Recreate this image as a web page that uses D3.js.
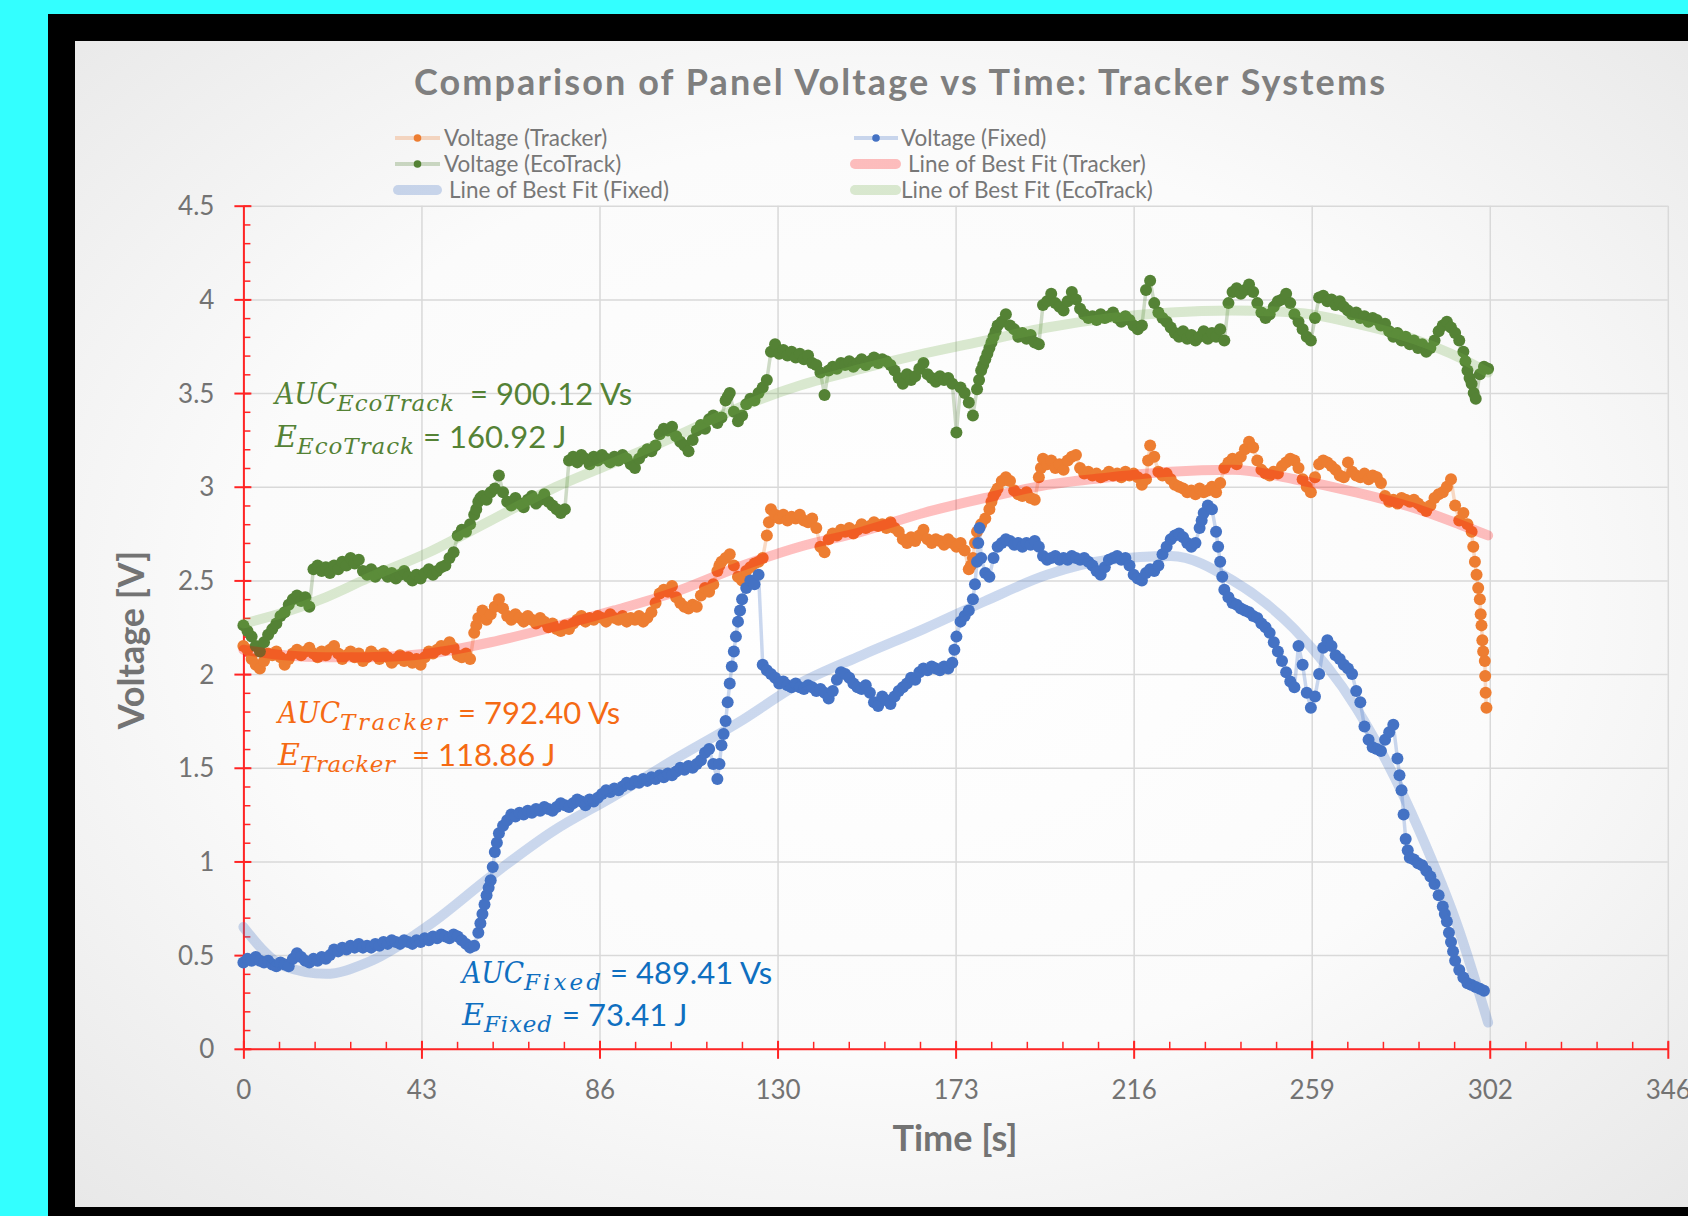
<!DOCTYPE html>
<html>
<head>
<meta charset="utf-8">
<script src="https://cdn.jsdelivr.net/npm/d3@7"></script>
<style>
  html, body { margin: 0; padding: 0; background: #33ffff; overflow: hidden; }
  svg { display: block; }
</style>
</head>
<body>
<div id="chart"></div>
<script>
// ---- data ----
// one sample per second, starting at t = 0
var seconds = d3.range(0, 303);

var trackerVolt = [
  2.15, 2.13, 2.08, 2.05, 2.03, 2.07, 2.11, 2.10, 2.12, 2.09,
  2.05, 2.08, 2.11, 2.13, 2.10, 2.12, 2.14, 2.11, 2.09, 2.12,
  2.10, 2.13, 2.15, 2.11, 2.08, 2.10, 2.12, 2.09, 2.11, 2.07,
  2.09, 2.12, 2.10, 2.08, 2.11, 2.09, 2.06, 2.08, 2.10, 2.07,
  2.09, 2.06, 2.08, 2.05, 2.09, 2.12, 2.11, 2.13, 2.15, 2.13,
  2.17, 2.14, 2.10, 2.09, 2.11, 2.08, 2.22, 2.30, 2.34, 2.29,
  2.32, 2.36, 2.40, 2.35, 2.31, 2.29, 2.32, 2.30, 2.28, 2.31,
  2.29, 2.27, 2.30, 2.28, 2.25, 2.27, 2.24, 2.23, 2.26, 2.24,
  2.27, 2.29, 2.31, 2.28, 2.30, 2.29, 2.31, 2.30, 2.28, 2.32,
  2.30, 2.29, 2.31, 2.28, 2.30, 2.29, 2.31, 2.28, 2.30, 2.33,
  2.38, 2.43, 2.45, 2.44, 2.47, 2.41, 2.38, 2.36, 2.35, 2.37,
  2.36, 2.42, 2.46, 2.44, 2.48, 2.55, 2.60, 2.62, 2.64, 2.58,
  2.52, 2.50, 2.55, 2.57, 2.59, 2.60, 2.62, 2.74, 2.88, 2.85,
  2.83, 2.85, 2.82, 2.84, 2.83, 2.85, 2.82, 2.81, 2.83, 2.78,
  2.68, 2.65, 2.72, 2.75, 2.74, 2.77, 2.76, 2.78, 2.75, 2.77,
  2.80, 2.78, 2.79, 2.81, 2.79, 2.80, 2.78, 2.81, 2.78, 2.76,
  2.72, 2.70, 2.73, 2.71, 2.74, 2.77, 2.72, 2.70, 2.72, 2.71,
  2.69, 2.72, 2.70, 2.68, 2.70, 2.66, 2.56, 2.62, 2.76, 2.80,
  2.83, 2.88, 2.95, 2.99, 3.03, 3.05, 3.03, 2.98, 2.96, 2.95,
  2.97, 2.94, 2.93, 3.05, 3.15, 3.12, 3.14, 3.10, 3.12, 3.09,
  3.14, 3.16, 3.17, 3.10, 3.07, 3.08, 3.06, 3.07, 3.05, 3.06,
  3.08, 3.06, 3.07, 3.05, 3.08, 3.06, 3.07, 3.05, 3.01, 3.04,
  3.22, 3.16, 3.08, 3.06, 3.07, 3.04, 3.01, 3.00, 2.99, 2.97,
  2.98, 2.96, 2.99, 2.97, 2.98, 3.00, 2.97, 3.02, 3.10, 3.13,
  3.15, 3.12, 3.16, 3.20, 3.24, 3.21, 3.14, 3.09, 3.07, 3.06,
  3.08, 3.07, 3.11, 3.13, 3.15, 3.14, 3.10, 3.04, 3.00, 2.97,
  3.05, 3.12, 3.14, 3.13, 3.11, 3.09, 3.06, 3.05, 3.13, 3.08,
  3.06, 3.05, 3.07, 3.04, 3.06, 3.05, 3.02, 2.95, 2.92, 2.93,
  2.91, 2.94, 2.93, 2.92, 2.93, 2.91, 2.89, 2.87, 2.90, 2.94,
  2.96, 2.97, 3.00, 3.04, 2.90, 2.82, 2.86, 2.80, 2.76
];
// extra samples where the voltage moves fast (and the final drop)
var trackerExtraTime = [56.5, 115.5, 127.5, 176.5, 177.5, 181.5, 182.5, 193.5, 219.5,
  298.4, 298.8, 299.2, 299.6, 300.0, 300.2, 300.4, 300.6, 300.8, 301.2, 301.3, 301.4, 301.6];
var trackerExtraVolt = [2.26, 2.58, 2.81, 2.58, 2.70, 2.92, 2.97, 3.10, 3.14,
  2.68, 2.60, 2.53, 2.46, 2.40, 2.32, 2.26, 2.18, 2.12, 2.07, 1.99, 1.90, 1.82];

var fixedVolt = [
  0.46, 0.48, 0.47, 0.49, 0.47, 0.46, 0.47, 0.45, 0.44, 0.46,
  0.45, 0.44, 0.48, 0.51, 0.49, 0.47, 0.46, 0.48, 0.47, 0.49,
  0.48, 0.50, 0.53, 0.52, 0.54, 0.53, 0.55, 0.54, 0.56, 0.54,
  0.55, 0.54, 0.56, 0.55, 0.57, 0.56, 0.58, 0.57, 0.56, 0.58,
  0.57, 0.56, 0.58, 0.57, 0.59, 0.58, 0.60, 0.59, 0.61, 0.60,
  0.59, 0.61, 0.60, 0.58, 0.56, 0.54, 0.55, 0.62, 0.72, 0.82,
  0.90, 1.05, 1.15, 1.19, 1.22, 1.25, 1.24, 1.26, 1.25, 1.27,
  1.26, 1.28, 1.27, 1.29, 1.28, 1.27, 1.29, 1.31, 1.30, 1.29,
  1.31, 1.33, 1.32, 1.30, 1.33, 1.32, 1.34, 1.36, 1.38, 1.37,
  1.39, 1.38, 1.40, 1.42, 1.41, 1.43, 1.42, 1.44, 1.43, 1.45,
  1.44, 1.46, 1.45, 1.47, 1.46, 1.48, 1.50, 1.49, 1.51, 1.50,
  1.52, 1.54, 1.58, 1.60, 1.52, 1.44, 1.62, 1.75, 1.95, 2.12,
  2.28, 2.40, 2.46, 2.50, 2.48, 2.53, 2.05, 2.02, 2.00, 1.98,
  1.95, 1.96, 1.94, 1.93, 1.95, 1.93, 1.92, 1.94, 1.93, 1.91,
  1.92, 1.90, 1.87, 1.91, 1.97, 2.01, 2.00, 1.98, 1.95, 1.93,
  1.92, 1.94, 1.90, 1.85, 1.83, 1.88, 1.86, 1.84, 1.88, 1.91,
  1.93, 1.95, 1.98, 1.97, 2.01, 2.03, 2.02, 2.04, 2.03, 2.02,
  2.04, 2.03, 2.06, 2.20, 2.28, 2.31, 2.34, 2.40, 2.60, 2.62,
  2.54, 2.52, 2.62, 2.68, 2.70, 2.72, 2.71, 2.69, 2.70, 2.68,
  2.70, 2.69, 2.71, 2.68, 2.63, 2.61, 2.62, 2.63, 2.61, 2.62,
  2.61, 2.63, 2.62, 2.61, 2.62, 2.60, 2.58, 2.55, 2.53, 2.57,
  2.61, 2.62, 2.63, 2.61, 2.62, 2.58, 2.53, 2.51, 2.50, 2.54,
  2.56, 2.55, 2.58, 2.64, 2.68, 2.72, 2.74, 2.75, 2.73, 2.70,
  2.68, 2.70, 2.78, 2.86, 2.90, 2.88, 2.76, 2.60, 2.45, 2.41,
  2.38, 2.37, 2.35, 2.34, 2.33, 2.31, 2.30, 2.27, 2.25, 2.22,
  2.17, 2.12, 2.07, 2.01, 1.96, 1.93, 2.15, 2.05, 1.90, 1.82,
  1.88, 2.00, 2.14, 2.18, 2.15, 2.10, 2.08, 2.05, 2.03, 2.00,
  1.91, 1.85, 1.72, 1.65, 1.61, 1.60, 1.59, 1.65, 1.69, 1.73,
  1.55, 1.38, 1.12, 1.02, 1.01, 0.99, 0.98, 0.95, 0.92, 0.88,
  0.82, 0.76, 0.68, 0.57, 0.47, 0.42, 0.38, 0.35, 0.34, 0.33,
  0.32, 0.31
];
var fixedExtraTime = [57.5, 58.5, 59.5, 60.5, 61.5, 115.5, 116.5, 117.5, 118.5, 119.5, 120.5,
  172.5, 177.5, 178.3, 178.6, 232.5, 236.5, 237.5, 280.5, 281.5, 282.5, 291.5, 292.5, 293.5];
var fixedExtraVolt = [0.67, 0.77, 0.86, 0.97, 1.10, 1.52, 1.68, 1.85, 2.04, 2.20, 2.34,
  2.13, 2.48, 2.70, 2.78, 2.82, 2.68, 2.52, 1.46, 1.25, 1.06, 0.72, 0.62, 0.52];

var ecoVolt = [
  2.26, 2.23, 2.20, 2.15, 2.12, 2.17, 2.21, 2.24, 2.27, 2.31,
  2.33, 2.37, 2.40, 2.42, 2.39, 2.41, 2.36, 2.56, 2.58, 2.55,
  2.57, 2.54, 2.58, 2.56, 2.60, 2.58, 2.62, 2.59, 2.61, 2.55,
  2.53, 2.56, 2.52, 2.54, 2.55, 2.52, 2.54, 2.51, 2.53, 2.55,
  2.52, 2.50, 2.53, 2.51, 2.54, 2.56, 2.53, 2.55, 2.57, 2.58,
  2.62, 2.65, 2.74, 2.77, 2.76, 2.80, 2.85, 2.92, 2.95, 2.93,
  2.97, 2.99, 3.06, 2.97, 2.92, 2.90, 2.94, 2.91, 2.89, 2.93,
  2.95, 2.91, 2.93, 2.96, 2.92, 2.90, 2.88, 2.86, 2.88, 3.14,
  3.16, 3.13, 3.17, 3.15, 3.12, 3.16, 3.14, 3.17, 3.15, 3.13,
  3.16, 3.14, 3.17, 3.15, 3.12, 3.10, 3.15, 3.18, 3.20, 3.19,
  3.22, 3.28, 3.31, 3.30, 3.32, 3.27, 3.24, 3.22, 3.19, 3.25,
  3.30, 3.33, 3.31, 3.36, 3.38, 3.34, 3.37, 3.46, 3.50, 3.40,
  3.35, 3.38, 3.44, 3.47, 3.46, 3.50, 3.53, 3.57, 3.72, 3.76,
  3.71, 3.73, 3.70, 3.72, 3.69, 3.71, 3.68, 3.70, 3.66, 3.65,
  3.61, 3.49, 3.62, 3.64, 3.63, 3.66, 3.65, 3.67, 3.64, 3.66,
  3.68, 3.65, 3.67, 3.69, 3.66, 3.68, 3.67, 3.65, 3.62, 3.58,
  3.55, 3.60, 3.57, 3.59, 3.63, 3.66, 3.60, 3.58, 3.56, 3.59,
  3.57, 3.58, 3.55, 3.29, 3.53, 3.50, 3.45, 3.38, 3.52, 3.62,
  3.68, 3.74, 3.80, 3.86, 3.88, 3.92, 3.86, 3.84, 3.80, 3.82,
  3.79, 3.81, 3.77, 3.76, 3.97, 3.99, 4.03, 3.98, 3.96, 3.94,
  3.99, 4.04, 4.00, 3.95, 3.92, 3.90, 3.91, 3.89, 3.92, 3.90,
  3.91, 3.93, 3.90, 3.88, 3.91, 3.89, 3.86, 3.84, 3.86, 4.05,
  4.10, 3.98, 3.93, 3.90, 3.88, 3.85, 3.82, 3.80, 3.83, 3.79,
  3.81, 3.78, 3.80, 3.83, 3.79, 3.82, 3.80, 3.84, 3.78, 3.98,
  4.04, 4.06, 4.03, 4.05, 4.08, 4.04, 3.98, 3.93, 3.90, 3.92,
  3.96, 3.99, 4.00, 4.03, 3.98, 3.92, 3.88, 3.84, 3.80, 3.78,
  3.90, 4.01, 4.02, 3.99, 4.00, 3.97, 3.99, 3.96, 3.94, 3.92,
  3.93, 3.90, 3.91, 3.88, 3.90, 3.89, 3.86, 3.87, 3.83, 3.80,
  3.82, 3.78, 3.80, 3.76, 3.78, 3.74, 3.76, 3.72, 3.74, 3.78,
  3.83, 3.86, 3.88, 3.85, 3.82, 3.78, 3.72, 3.62, 3.55, 3.47,
  3.60, 3.64, 3.63
];
var ecoExtraTime = [56.5, 57.5, 117.5, 178.5, 179.5, 180.5, 181.5, 182.5, 296.5, 297.5, 298.5];
var ecoExtraVolt = [2.88, 2.94, 3.48, 3.57, 3.65, 3.71, 3.77, 3.83, 3.67, 3.58, 3.50];

// lines of best fit, read at these times
var fitTime = [0, 10, 20, 30, 45, 60, 75, 90, 105, 120, 135, 150, 165, 180, 195, 210, 225, 240, 255, 270, 285, 295, 302];
var fitTracker = [2.13, 2.10, 2.09, 2.09, 2.11, 2.17, 2.25, 2.34, 2.44, 2.57, 2.68, 2.76, 2.86, 2.94, 3.01, 3.05, 3.08, 3.09, 3.04, 2.97, 2.88, 2.80, 2.74];
var fitFixed   = [0.65, 0.44, 0.40, 0.46, 0.66, 0.92, 1.16, 1.35, 1.55, 1.74, 1.95, 2.10, 2.24, 2.39, 2.53, 2.61, 2.63, 2.50, 2.24, 1.82, 1.18, 0.63, 0.14];
var fitEco     = [2.27, 2.33, 2.41, 2.51, 2.65, 2.82, 2.99, 3.13, 3.27, 3.42, 3.54, 3.63, 3.71, 3.78, 3.85, 3.90, 3.93, 3.94, 3.93, 3.87, 3.78, 3.69, 3.61];

// axes
var timeTicks = [0, 43.2, 86.4, 129.6, 172.8, 216, 259.2, 302.4, 345.6];
var timeTickLabels = ["0", "43", "86", "130", "173", "216", "259", "302", "346"];
var voltTicks = [0, 0.5, 1, 1.5, 2, 2.5, 3, 3.5, 4, 4.5];
var voltTickLabels = ["0", "0.5", "1", "1.5", "2", "2.5", "3", "3.5", "4", "4.5"];

// ---- drawing ----
var width = 1688, height = 1216;
var sans = "Lato, 'Open Sans', sans-serif";
var serif = "'DejaVu Serif', 'Liberation Serif', serif";

var svg = d3.select("#chart").append("svg")
  .attr("width", width)
  .attr("height", height);

var defs = svg.append("defs");
var grad = defs.append("radialGradient").attr("id", "bg")
  .attr("cx", "50%").attr("cy", "48%").attr("r", "72%");
grad.append("stop").attr("offset", "0%").attr("stop-color", "#ffffff");
grad.append("stop").attr("offset", "55%").attr("stop-color", "#fbfbfb");
grad.append("stop").attr("offset", "100%").attr("stop-color", "#e8e8e8");

// page + black frame + chart area
svg.append("rect").attr("width", width).attr("height", height).attr("fill", "#33ffff");
svg.append("rect").attr("x", 48).attr("y", 14).attr("width", width - 48).attr("height", height - 14).attr("fill", "#000");
svg.append("rect").attr("x", 75).attr("y", 41).attr("width", width - 75).attr("height", 1207 - 41).attr("fill", "url(#bg)");

var x = d3.scaleLinear().domain([0, 345.6]).range([243.4, 1667.8]);
var y = d3.scaleLinear().domain([0, 4.5]).range([1048.8, 205.7]);

var plotW = x(345.6) - x(0);
var plotH = y(0) - y(4.5);

// gridlines
svg.append("g")
  .attr("transform", "translate(0," + y(0) + ")")
  .call(d3.axisBottom(x).tickValues(timeTicks).tickSize(-plotH).tickFormat(""))
  .call(function(g) { g.select(".domain").remove(); })
  .selectAll("line").attr("stroke", "#d9d9d9").attr("stroke-width", 1.5);
svg.append("g")
  .attr("transform", "translate(" + x(0) + ",0)")
  .call(d3.axisLeft(y).tickValues(voltTicks).tickSize(-plotW).tickFormat(""))
  .call(function(g) { g.select(".domain").remove(); })
  .selectAll("line").attr("stroke", "#d9d9d9").attr("stroke-width", 1.5);

// red axes with crossing major ticks and inner minor ticks
var red = "#ff2424";
var minorTime = d3.range(0, 41).map(function(i) { return i * 8.64; });
var minorVolt = d3.range(0, 46).map(function(i) { return i * 0.1; });

svg.append("g")
  .attr("transform", "translate(0," + y(0) + ")")
  .call(d3.axisTop(x).tickValues(minorTime).tickSize(7).tickSizeOuter(0).tickFormat(""))
  .call(function(g) { g.select(".domain").remove(); })
  .selectAll("line").attr("stroke", red).attr("stroke-width", 1.5);
svg.append("g")
  .attr("transform", "translate(" + x(0) + ",0)")
  .call(d3.axisRight(y).tickValues(minorVolt).tickSize(7).tickSizeOuter(0).tickFormat(""))
  .call(function(g) { g.select(".domain").remove(); })
  .selectAll("line").attr("stroke", red).attr("stroke-width", 1.5);

var xAxis = svg.append("g")
  .attr("transform", "translate(0," + y(0) + ")")
  .call(d3.axisBottom(x).tickValues(timeTicks).tickSizeOuter(0)
    .tickFormat(function(d, i) { return timeTickLabels[i]; }));
xAxis.select(".domain").attr("stroke", red).attr("stroke-width", 2);
xAxis.selectAll(".tick line").attr("stroke", red).attr("stroke-width", 2).attr("y1", -8).attr("y2", 10);
xAxis.selectAll(".tick text")
  .attr("y", 50).attr("dy", 0)
  .style("font-family", sans).style("font-size", "26px").attr("fill", "#737373");

var yAxis = svg.append("g")
  .attr("transform", "translate(" + x(0) + ",0)")
  .call(d3.axisLeft(y).tickValues(voltTicks).tickSizeOuter(0)
    .tickFormat(function(d, i) { return voltTickLabels[i]; }));
yAxis.select(".domain").attr("stroke", red).attr("stroke-width", 2);
yAxis.selectAll(".tick line").attr("stroke", red).attr("stroke-width", 2).attr("x1", 8).attr("x2", -9);
yAxis.selectAll(".tick text")
  .attr("x", -29).attr("dy", "0.35em")
  .style("font-family", sans).style("font-size", "26px").attr("fill", "#737373");

// series
function points(volts, extraTime, extraVolt) {
  var pts = volts.map(function(v, i) { return { t: seconds[i], v: v }; });
  extraTime.forEach(function(t, i) { pts.push({ t: t, v: extraVolt[i] }); });
  pts.sort(function(a, b) { return a.t - b.t; });
  return pts;
}

var series = [
  { name: "Voltage (Tracker)", color: "#ed7d31", pts: points(trackerVolt, trackerExtraTime, trackerExtraVolt) },
  { name: "Voltage (Fixed)", color: "#4472c4", pts: points(fixedVolt, fixedExtraTime, fixedExtraVolt) },
  { name: "Voltage (EcoTrack)", color: "#548235", pts: points(ecoVolt, ecoExtraTime, ecoExtraVolt) }
];

var line = d3.line()
  .x(function(d) { return x(d.t); })
  .y(function(d) { return y(d.v); });

series.forEach(function(s) {
  svg.append("path")
    .datum(s.pts)
    .attr("d", line)
    .attr("fill", "none")
    .attr("stroke", s.color)
    .attr("stroke-opacity", 0.28)
    .attr("stroke-width", 3.5);
  svg.append("g").selectAll("circle")
    .data(s.pts)
    .enter().append("circle")
    .attr("cx", function(d) { return x(d.t); })
    .attr("cy", function(d) { return y(d.v); })
    .attr("r", 6)
    .attr("fill", s.color);
});

// lines of best fit on top, translucent
var fits = [
  { name: "Line of Best Fit (Tracker)", color: "#ff0000", opacity: 0.25, vals: fitTracker },
  { name: "Line of Best Fit (Fixed)", color: "#4472c4", opacity: 0.27, vals: fitFixed },
  { name: "Line of Best Fit (EcoTrack)", color: "#70ad47", opacity: 0.25, vals: fitEco }
];
var fitLine = d3.line()
  .curve(d3.curveMonotoneX)
  .x(function(d, i) { return x(fitTime[i]); })
  .y(function(d) { return y(d); });

fits.forEach(function(f) {
  svg.append("path")
    .datum(f.vals)
    .attr("d", fitLine)
    .attr("fill", "none")
    .attr("stroke", f.color)
    .attr("stroke-opacity", f.opacity)
    .attr("stroke-width", 10)
    .attr("stroke-linecap", "round");
});

// title
svg.append("text")
  .attr("x", 414).attr("y", 95)
  .attr("textLength", 971).attr("lengthAdjust", "spacing")
  .style("font-family", sans).style("font-size", "36px").style("font-weight", "bold")
  .attr("fill", "#7f7f7f")
  .text("Comparison of Panel Voltage vs Time: Tracker Systems");

// axis titles
svg.append("text")
  .attr("transform", "translate(144,640) rotate(-90)")
  .attr("text-anchor", "middle")
  .style("font-family", sans).style("font-size", "36px").style("font-weight", "bold")
  .attr("fill", "#737373")
  .text("Voltage [V]");
svg.append("text")
  .attr("x", 955).attr("y", 1151)
  .attr("text-anchor", "middle")
  .style("font-family", sans).style("font-size", "36px").style("font-weight", "bold")
  .attr("fill", "#737373")
  .text("Time [s]");

// legend
var legendItems = [
  { label: "Voltage (Tracker)",         kind: "marker", color: "#ed7d31", x0: 395, x1: 440, tx: 444, cy: 138 },
  { label: "Voltage (Fixed)",           kind: "marker", color: "#4472c4", x0: 854, x1: 898, tx: 901, cy: 138 },
  { label: "Voltage (EcoTrack)",        kind: "marker", color: "#548235", x0: 395, x1: 440, tx: 444, cy: 164 },
  { label: "Line of Best Fit (Tracker)", kind: "fit", color: "#ff0000", opacity: 0.25, x0: 855, x1: 896, tx: 908, cy: 164 },
  { label: "Line of Best Fit (Fixed)",  kind: "fit", color: "#4472c4", opacity: 0.27, x0: 398, x1: 437, tx: 449, cy: 190 },
  { label: "Line of Best Fit (EcoTrack)", kind: "fit", color: "#70ad47", opacity: 0.25, x0: 855, x1: 896, tx: 901, cy: 190 }
];
var legend = svg.append("g");
legendItems.forEach(function(d) {
  if (d.kind === "marker") {
    legend.append("line")
      .attr("x1", d.x0).attr("x2", d.x1).attr("y1", d.cy).attr("y2", d.cy)
      .attr("stroke", d.color).attr("stroke-opacity", 0.28).attr("stroke-width", 4);
    legend.append("circle")
      .attr("cx", (d.x0 + d.x1) / 2).attr("cy", d.cy).attr("r", 3.8)
      .attr("fill", d.color);
  } else {
    legend.append("line")
      .attr("x1", d.x0).attr("x2", d.x1).attr("y1", d.cy).attr("y2", d.cy)
      .attr("stroke", d.color).attr("stroke-opacity", d.opacity)
      .attr("stroke-width", 10).attr("stroke-linecap", "round");
  }
  legend.append("text")
    .attr("x", d.tx).attr("y", d.cy + 7.5)
    .style("font-family", sans).style("font-size", "22.5px")
    .attr("fill", "#777777")
    .text(d.label);
});

// AUC / energy annotations
var notes = [
  { color: "#548235", x: 275, y: 404, sym: "AUC", sub: "EcoTrack", subW: 117, eqX: 470, eq: "= 900.12 Vs" },
  { color: "#548235", x: 275, y: 447, sym: "E", sub: "EcoTrack", subW: 117, eqX: 423, eq: "= 160.92 J" },
  { color: "#f56a14", x: 278, y: 723, sym: "AUC", sub: "Tracker", subW: 107, eqX: 458, eq: "= 792.40 Vs" },
  { color: "#f56a14", x: 278, y: 765, sym: "E", sub: "Tracker", subW: 95, eqX: 412, eq: "= 118.86 J" },
  { color: "#0f6fc0", x: 462, y: 983, sym: "AUC", sub: "Fixed", subW: 77, eqX: 610, eq: "= 489.41 Vs" },
  { color: "#0f6fc0", x: 462, y: 1025, sym: "E", sub: "Fixed", subW: 68, eqX: 562, eq: "= 73.41 J" }
];
notes.forEach(function(n) {
  var symW = n.sym === "AUC" ? 62 : 22;
  svg.append("text")
    .attr("x", n.x).attr("y", n.y)
    .attr("textLength", symW).attr("lengthAdjust", "spacingAndGlyphs")
    .style("font-family", serif).style("font-style", "italic").style("font-size", "30px")
    .attr("fill", n.color)
    .text(n.sym);
  svg.append("text")
    .attr("x", n.x + symW).attr("y", n.y + 7)
    .attr("textLength", n.subW).attr("lengthAdjust", "spacing")
    .style("font-family", serif).style("font-style", "italic").style("font-size", "23px")
    .attr("fill", n.color)
    .text(n.sub);
  svg.append("text")
    .attr("x", n.eqX).attr("y", n.y + 1)
    .style("font-family", sans).style("font-size", "31px")
    .attr("fill", n.color)
    .text(n.eq);
});
</script>
</body>
</html>
